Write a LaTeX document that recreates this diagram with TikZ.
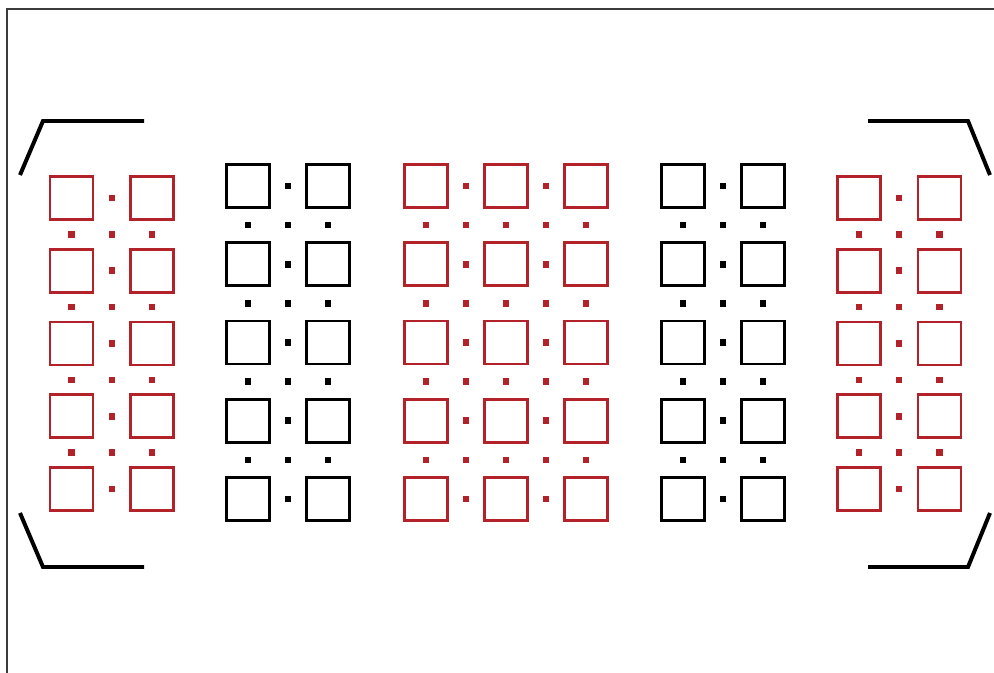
\documentclass[tikz,border=0pt]{standalone}
\usepackage{tikz}
\usetikzlibrary{calc}

\definecolor{ptred}{RGB}{178,34,40}
\definecolor{ptframe}{RGB}{60,60,60}

\begin{document}
\begin{tikzpicture}[
    x=0.03cm, y=-0.03cm,
    sqRed/.style={
      draw=ptred, line width=2.5pt,
      minimum size=1.29cm, inner sep=0pt
    },
    sqBlk/.style={
      draw=black, line width=2.5pt,
      minimum size=1.29cm, inner sep=0pt
    },
    dotRed/.style={fill=ptred, minimum size=0.2cm, inner sep=0pt},
    dotBlk/.style={fill=black, minimum size=0.2cm, inner sep=0pt},
    brk/.style={line width=3.4pt, draw=black},
    frm/.style={line width=1.7pt, draw=ptframe}
  ]

  \useasboundingbox (0,0) rectangle (994,673);

  % Frame (top and left edges)
  \coordinate (F0) at (7,673);
  \coordinate (F1) at (7,9);
  \coordinate (F2) at (994,9);
  \draw[frm] (F0) -- (F1) -- (F2);

  % Outer red pairs, left and right
  \foreach \g/\xa/\xm/\xb in {OL/71.5/112/152, OR/859/899/939.5} {
    \foreach \r in {0,...,4} {
      \node[sqRed]  (\g-a-\r) at (\xa,198+72.75*\r) {};
      \node[sqRed]  (\g-b-\r) at (\xb,198+72.75*\r) {};
      \node[dotRed] (\g-m-\r) at (\xm,198+72.75*\r) {};
    }
    \foreach \r in {0,...,3}
      \foreach \x [count=\i] in {\xa,\xm,\xb}
        \node[dotRed] (\g-d\i-\r) at (\x,234.4+72.75*\r) {};
  }

  % Black pairs
  \foreach \g/\xa/\xm/\xb in {BL/248/288/328, BR/683/723/763} {
    \foreach \r in {0,...,4} {
      \node[sqBlk]  (\g-a-\r) at (\xa,186+78.25*\r) {};
      \node[sqBlk]  (\g-b-\r) at (\xb,186+78.25*\r) {};
      \node[dotBlk] (\g-m-\r) at (\xm,186+78.25*\r) {};
    }
    \foreach \r in {0,...,3}
      \foreach \x [count=\i] in {\xa,\xm,\xb}
        \node[dotBlk] (\g-d\i-\r) at (\x,225.1+78.25*\r) {};
  }

  % Centre red triple
  \foreach \r in {0,...,4} {
    \foreach \x [count=\i] in {426,506,586}
      \node[sqRed] (C-\i-\r) at (\x,186+78.25*\r) {};
    \foreach \x [count=\i] in {466,546}
      \node[dotRed] (C-m\i-\r) at (\x,186+78.25*\r) {};
  }
  \foreach \r in {0,...,3}
    \foreach \x [count=\i] in {426,466,506,546,586}
      \node[dotRed] (C-d\i-\r) at (\x,225.1+78.25*\r) {};

  % Corner brackets
  \coordinate (LT0) at (20,175);  \coordinate (LT1) at (43,121);  \coordinate (LT2) at (144,121);
  \coordinate (LB0) at (20,513);  \coordinate (LB1) at (43,567);  \coordinate (LB2) at (144,567);
  \coordinate (RT0) at (990,175); \coordinate (RT1) at (968,121); \coordinate (RT2) at (868,121);
  \coordinate (RB0) at (990,513); \coordinate (RB1) at (968,567); \coordinate (RB2) at (868,567);

  \draw[brk] (LT0) -- (LT1) -- (LT2);
  \draw[brk] (LB0) -- (LB1) -- (LB2);
  \draw[brk] (RT0) -- (RT1) -- (RT2);
  \draw[brk] (RB0) -- (RB1) -- (RB2);

\end{tikzpicture}
\end{document}
